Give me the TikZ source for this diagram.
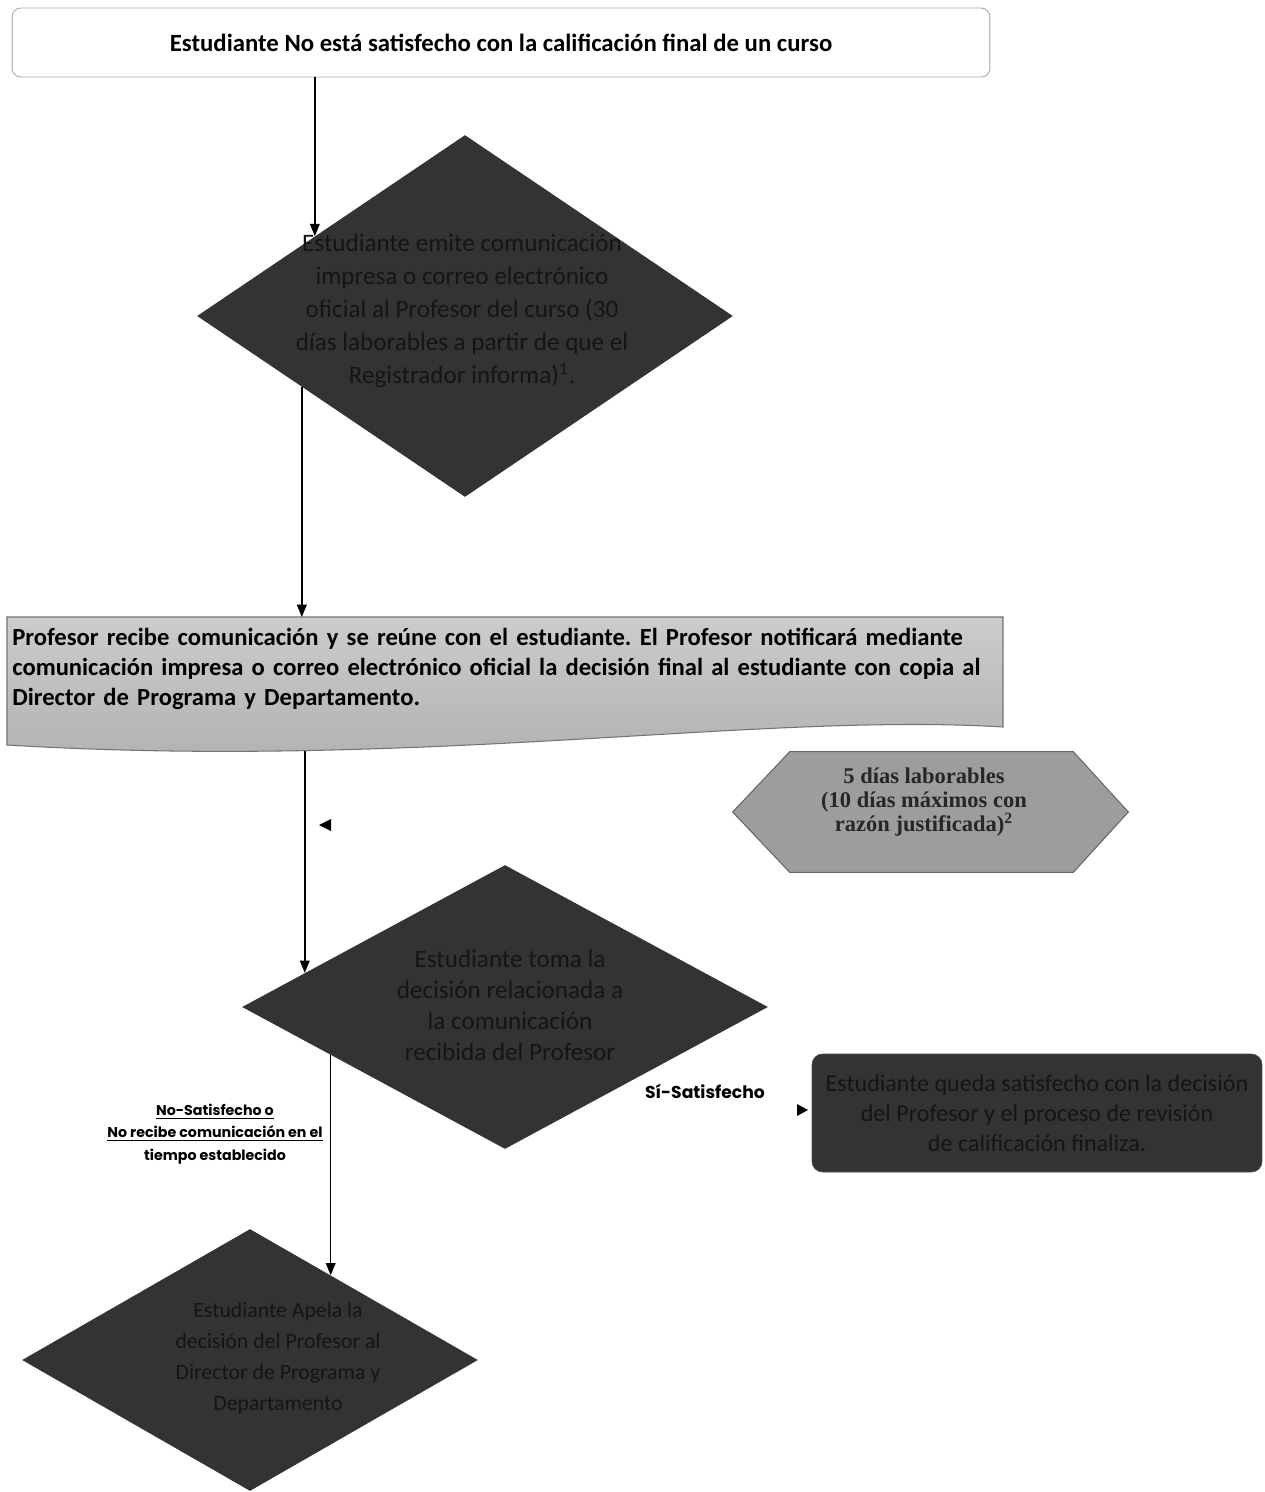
\documentclass[tikz,border=0pt]{standalone}
\usepackage{fontspec}
\setmainfont{Carlito}
\newfontfamily\timesfont{Liberation Serif}
\newfontfamily\gothic{Poppins}
\usetikzlibrary{shapes.geometric,arrows.meta,calc}
\definecolor{dkfill}{HTML}{333333}
\definecolor{dktext}{HTML}{151515}
\definecolor{hexgrey}{HTML}{9D9D9D}
\frenchspacing
\begin{document}
\begin{tikzpicture}[x=0.02cm,y=-0.02cm,
  arr/.style={draw=black, line width=0.9pt, -{Triangle[length=7pt,width=5.5pt]}},
  ddia/.style={diamond, fill=dkfill, draw=none, inner sep=0pt},
  dtext/.style={text=dktext, align=center},
  tipmark/.style={fill=black},
]
\useasboundingbox (0,0) rectangle (1265,1492);

% top box
\node (top) [rectangle, rounded corners=5pt, draw=black!35, line width=0.5pt,
  minimum width=19.56cm, minimum height=1.38cm, inner sep=0pt,
  font=\bfseries\fontsize{14.1}{16}\selectfont] at (501,42.5)
  {Estudiante No está satisfecho con la calificación final de un curso};

% diamond 1
\node (d1) [ddia, minimum width=10.72cm, minimum height=7.24cm] at (465,316) {};
\node (d1t) [dtext, font=\fontsize{14.3}{18.7}\selectfont] at (462,311)
  {Estudiante emite comunicación\\impresa o correo electrónico\\oficial al Profesor del curso (30\\días laborables a partir de que el\\Registrador informa)\textsuperscript{1}.};

% grey document box
\shade[top color=black!20, bottom color=black!31, draw=black!55, line width=0.6pt]
  (7,617) -- (1003,617) -- (1003,727)
  .. controls (760,712) and (420,770) .. (7,745) -- cycle;
\node (prof) [minimum width=19.92cm, minimum height=2.06cm, inner xsep=0.1cm,
  inner ysep=0pt, text width=19.72cm, align=left, anchor=north west,
  font=\bfseries\fontsize{14}{17}\selectfont] at (7,617)
  {Profesor recibe comunicación y se reúne con el estudiante. El Profesor notificará mediante\\
   comunicación impresa o correo electrónico oficial la decisión final al estudiante con copia al\\
   Director de Programa y Departamento.};
\coordinate (pb) at (305,751);

% hexagon
\node (hex) [minimum width=7.9cm, minimum height=2.4cm, inner sep=0pt] at (930.5,812) {};
\filldraw[fill=hexgrey, draw=black!60, line width=0.6pt]
  (hex.west) -- ($(hex.north west)+(57,0)$) -- ($(hex.north east)+(-55,0)$)
  -- (hex.east) -- ($(hex.south east)+(-55,0)$) -- ($(hex.south west)+(57,0)$) -- cycle;
\node (hext) [align=center, text=black!85, font=\timesfont\bfseries\fontsize{12.8}{13.6}\selectfont]
  at (924,802) {5 días laborables\\(10 días máximos con\\razón justificada)\textsuperscript{2}};

% diamond 2
\node (d2) [ddia, minimum width=10.52cm, minimum height=5.68cm] at (505,1007) {};
\node (d2t) [dtext, font=\fontsize{14.3}{17.6}\selectfont] at (510,1005)
  {Estudiante toma la\\decisión relacionada a\\la comunicación\\recibida del Profesor};

% right box
\node (sat) [rectangle, rounded corners=6pt, fill=dkfill, draw=black!70,
  minimum width=9cm, minimum height=2.36cm, inner sep=0pt, dtext,
  font=\fontsize{13.7}{17}\selectfont] at (1037,1113)
  {Estudiante queda satisfecho con la decisión\\del Profesor y el proceso de revisión\\de calificación finaliza.};

% diamond 3
\node (d3) [ddia, minimum width=9.12cm, minimum height=5.24cm] at (250,1360) {};
\node (d3t) [dtext, font=\fontsize{12.4}{17.6}\selectfont] at (278,1358)
  {Estudiante Apela la\\decisión del Profesor al\\Director de Programa y\\Departamento};

% labels
\node (lsi) [font=\gothic\bfseries\fontsize{9.8}{11}\selectfont] at (705,1091) {Sí-Satisfecho};
\node (lno) [align=center, font=\gothic\bfseries\fontsize{8.1}{12.8}\selectfont] at (215,1134)
  {\underline{No-Satisfecho o}\\\underline{No recibe comunicación en el}\\tiempo establecido};

% connectors
\coordinate (e1) at ($(d1.west)!0.4403!(d1.north)$);
\draw[arr] (top.south -| e1) -- (e1);
\coordinate (s2) at ($(d1.west)!0.3918!(d1.south)$);
\draw[arr] (s2) -- (s2 |- prof.north);
\coordinate (e3) at ($(d2.west)!0.2395!(d2.north)$);
\draw[arr] (e3 |- pb) -- (e3);
\coordinate (s4) at ($(d2.west)!0.338!(d2.south)$);
\coordinate (e4) at ($(d3.north)!0.355!(d3.east)$);
\draw[arr] (s4) -- (s4 |- e4);

% stray arrow tips
\fill[tipmark] (319,825) -- (331,819) -- (331,831) -- cycle;
\fill[tipmark] (808,1110) -- (797,1104) -- (797,1116) -- cycle;
\end{tikzpicture}
\end{document}
